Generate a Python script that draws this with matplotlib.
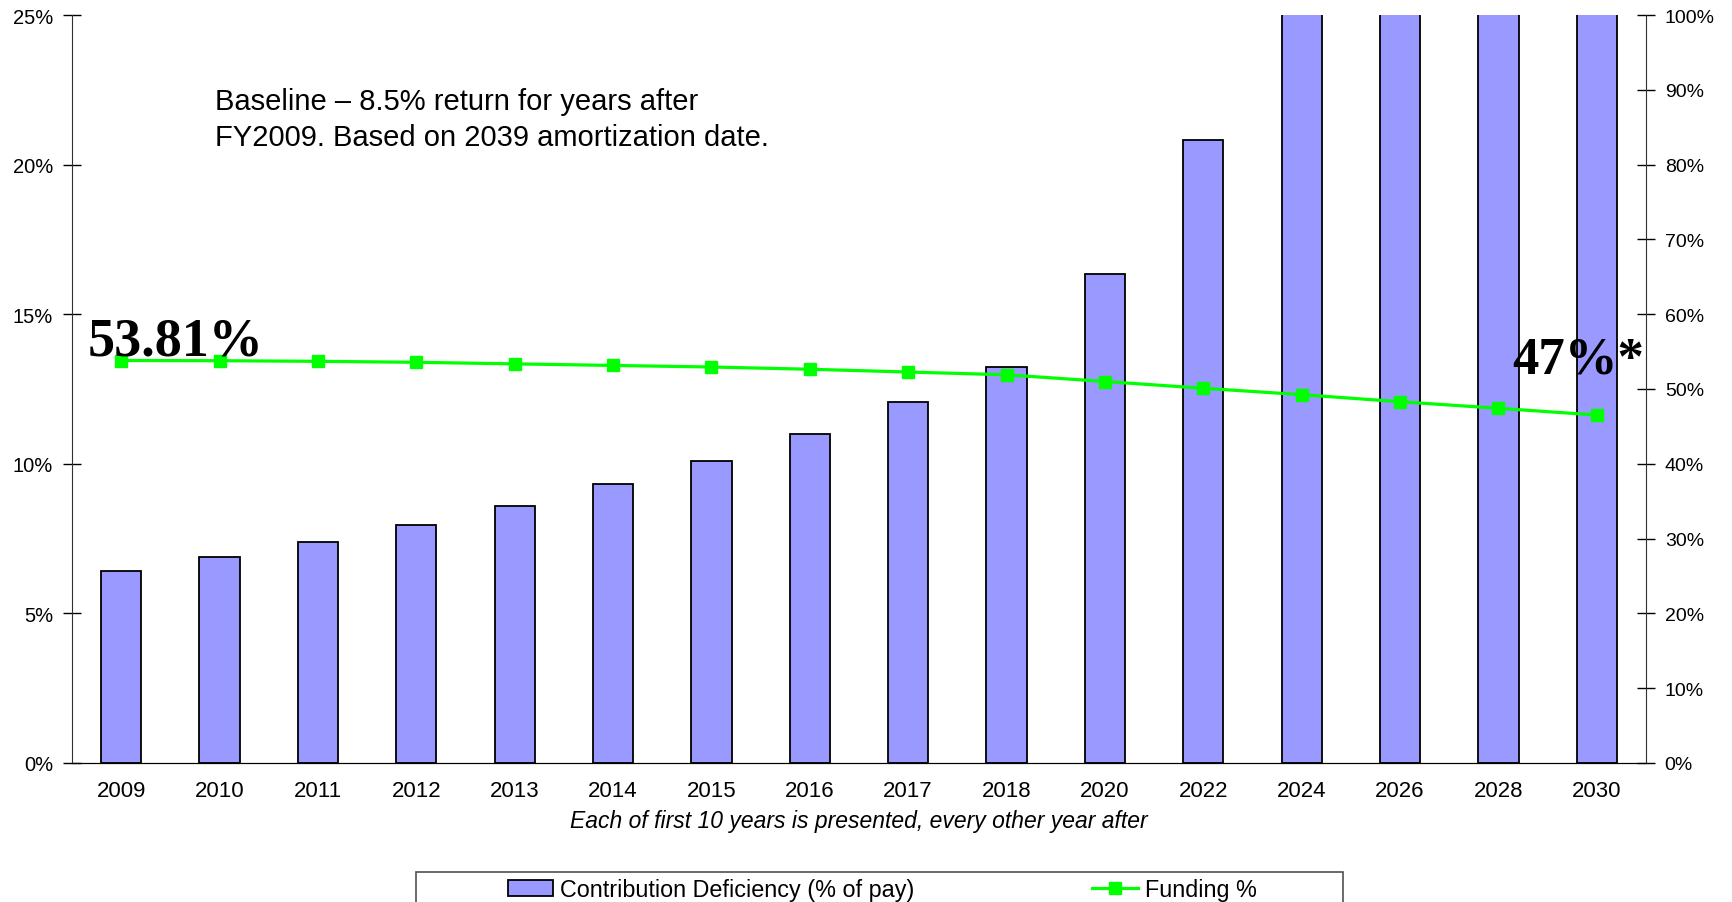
import numpy as np
import matplotlib
matplotlib.use("Agg")
import matplotlib.pyplot as plt
from matplotlib.patches import Rectangle
from matplotlib.ticker import FuncFormatter

plt.rcParams['font.family'] = ['Liberation Sans', 'DejaVu Sans']

# data
years = ['2009', '2010', '2011', '2012', '2013', '2014', '2015', '2016',
         '2017', '2018', '2020', '2022', '2024', '2026', '2028', '2030']
deficiency = [6.43, 6.90, 7.40, 7.95, 8.58, 9.32, 10.09, 10.98,
              12.05, 13.23, 16.34, 20.81, 27.0, 33.0, 39.0, 46.0]
funding = [53.81, 53.78, 53.70, 53.57, 53.36, 53.15, 52.94, 52.64,
           52.27, 51.90, 51.00, 50.10, 49.24, 48.30, 47.42, 46.52]
left_ticks = [0, 5, 10, 15, 20, 25]
right_ticks = [0, 10, 20, 30, 40, 50, 60, 70, 80, 90, 100]

W, H = 1733, 903
fig = plt.figure(figsize=(W / 100, H / 100), dpi=100)
ax = fig.add_axes([72 / W, (H - 764) / H, (1646 - 72) / W, (764 - 16) / H])

x = np.arange(len(years))
bars = ax.bar(x, deficiency, width=0.41, color='#9999FF', edgecolor='black',
              linewidth=1.3, label='Contribution Deficiency (% of pay)', zorder=2)
ax.set_xlim(-0.5, len(years) - 0.5)
ax.set_ylim(0, 25)
ax.set_yticks(left_ticks)
ax.yaxis.set_major_formatter(FuncFormatter(lambda v, p: '%d%%' % v))
ax.set_xticks(x)
ax.set_xticklabels(years)
ax.tick_params(axis='x', length=0, pad=12, labelsize=16)
ax.tick_params(axis='y', direction='inout', length=13, width=1, pad=7, labelsize=14.5)
ax.spines['top'].set_visible(False)
ax.spines['right'].set_visible(False)
ax.spines['left'].set_color('#303030')
ax.set_xlabel('Each of first 10 years is presented, every other year after',
              fontsize=16.5, style='italic', labelpad=6)

ax2 = ax.twinx()
line, = ax2.plot(x, funding, color='#00FF00', linewidth=2.3, marker='s',
                 markersize=9, label='Funding %', zorder=3)
ax2.set_ylim(0, 100)
ax2.set_yticks(right_ticks)
ax2.yaxis.set_major_formatter(FuncFormatter(lambda v, p: '%d%%' % v))
ax2.tick_params(axis='y', direction='inout', length=13, width=1, pad=7, labelsize=14)
ax2.spines['top'].set_visible(False)
ax2.spines['left'].set_visible(False)
ax2.spines['right'].set_color('#303030')

ax.text(215 / W, 1 - 120 / H, 'Baseline \u2013 8.5% return for years after\nFY2009. Based on 2039 amortization date.',
        transform=fig.transFigure, fontsize=21, va='center', ha='left', linespacing=1.38)

fig.text(88 / W, 1 - 356 / H, '53.81%', family='Liberation Serif', weight='bold',
         fontsize=39, ha='left', va='baseline')
fig.text(1512 / W, 1 - 374 / H, '47%*', family='Liberation Serif', weight='bold',
         fontsize=38, ha='left', va='baseline')

# legend box at the bottom (cut by the figure edge)
fig.patches.append(Rectangle((416 / W, -0.02), (1343 - 416) / W, (H - 873) / H + 0.02,
                             transform=fig.transFigure, fill=False,
                             edgecolor='#505050', linewidth=1.2))
fig.legend(handles=[bars, line], ncol=2, loc='upper left',
           bbox_to_anchor=(508 / W, 1 - 879 / H), frameon=False, borderpad=0,
           borderaxespad=0, fontsize=16.8, handlelength=1.95, handletextpad=0.3,
           columnspacing=7.6)

fig.savefig('out.png', dpi=100)
